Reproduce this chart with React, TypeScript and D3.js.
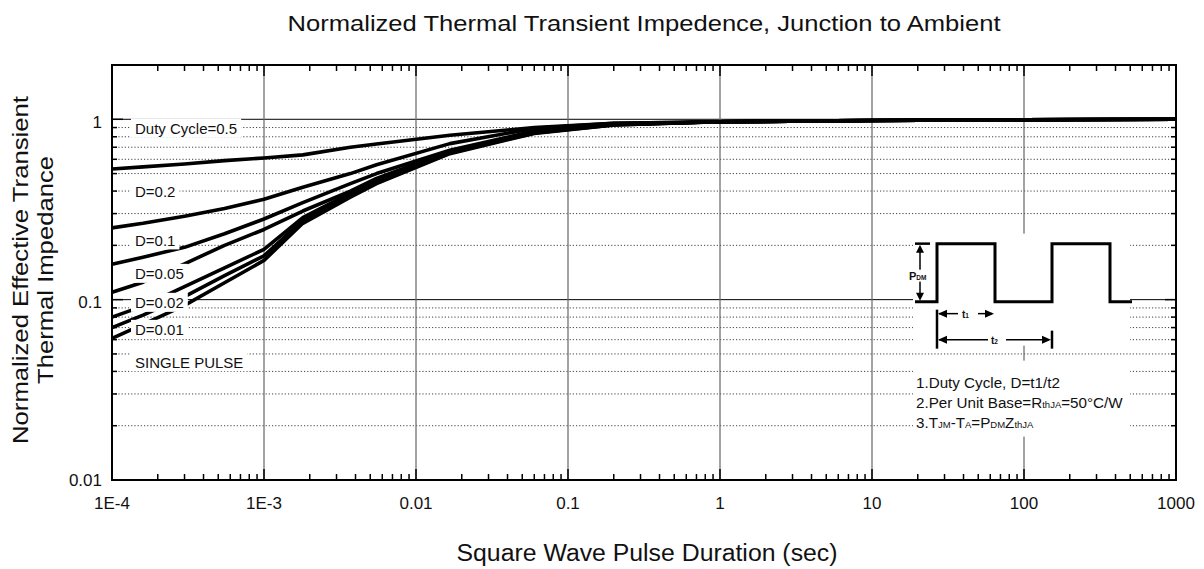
import * as d3 from 'd3';

// pulse duration (sec) sampled along every curve
const pulseTimes = [1e-4, 1.6e-4, 3e-4, 5.5e-4, 1e-3, 1.8e-3, 3.7e-3, 5.5e-3, 0.0167, 0.06, 0.2, 1, 10, 100, 1000];

// normalized Zth
const dutyCycle05 = [0.53, 0.545, 0.565, 0.59, 0.61, 0.635, 0.7, 0.73, 0.815, 0.9, 0.95, 0.97, 0.985, 0.995, 1.0];
const dutyCycle02 = [0.25, 0.265, 0.29, 0.32, 0.36, 0.42, 0.5, 0.56, 0.733, 0.89, 0.95, 0.97, 0.985, 0.995, 1.0];
const dutyCycle01 = [0.157, 0.172, 0.195, 0.232, 0.28, 0.345, 0.44, 0.5, 0.673, 0.86, 0.94, 0.97, 0.985, 0.995, 1.0];
const dutyCycle005 = [0.11, 0.125, 0.158, 0.2, 0.245, 0.31, 0.4, 0.47, 0.665, 0.85, 0.935, 0.97, 0.985, 0.995, 1.0];
const dutyCycle002 = [0.08, 0.092, 0.118, 0.15, 0.19, 0.285, 0.39, 0.455, 0.655, 0.845, 0.935, 0.97, 0.985, 0.995, 1.0];
const dutyCycle001 = [0.07, 0.082, 0.104, 0.136, 0.175, 0.275, 0.38, 0.445, 0.65, 0.84, 0.93, 0.97, 0.985, 0.995, 1.0];
const singlePulse = [0.061, 0.073, 0.093, 0.124, 0.165, 0.265, 0.37, 0.44, 0.645, 0.835, 0.93, 0.97, 0.985, 0.995, 1.0];

const seriesValues = [dutyCycle05, dutyCycle02, dutyCycle01, dutyCycle005, dutyCycle002, dutyCycle001, singlePulse];
const seriesLabels = ['Duty Cycle=0.5', 'D=0.2', 'D=0.1', 'D=0.05', 'D=0.02', 'D=0.01', 'SINGLE PULSE'];

const xTickValues = [1e-4, 1e-3, 0.01, 0.1, 1, 10, 100, 1000];
const xTickLabels = ['1E-4', '1E-3', '0.01', '0.1', '1', '10', '100', '1000'];
const yTickValues = [0.01, 0.1, 1];
const yTickLabels = ['0.01', '0.1', '1'];

// layout
const width = 1204;
const height = 569;
const plot = { left: 112, right: 1176, top: 65, bottom: 480 };
const font = 'Liberation Sans, Arial, Helvetica, sans-serif';
// vertical position of each curve label, in impedance units
const labelLevels = [0.89, 0.4, 0.213, 0.139, 0.096, 0.068, 0.045];

const measure = (() => {
  const ctx = document.createElement('canvas').getContext('2d');
  return (text: string, size: number) => {
    if (!ctx) return text.length * size * 0.5;
    ctx.font = `${size}px ${font}`;
    return ctx.measureText(text).width;
  };
})();

const x = d3.scaleLog().domain([1e-4, 1000]).range([plot.left, plot.right]);
const y = d3.scaleLog().domain([0.01, 2]).range([plot.bottom, plot.top]);

const minorX: number[] = [];
for (let e = -4; e < 3; e++) for (let m = 2; m <= 9; m++) minorX.push(m * Math.pow(10, e));
const minorY: number[] = [];
for (let e = -2; e < 0; e++) for (let m = 2; m <= 9; m++) minorY.push(m * Math.pow(10, e));

const line = d3
  .line<number>()
  .x((_, i) => x(pulseTimes[i]))
  .y(d => y(d));

const App = () => {
  // inset anchor: pulse diagram and notes sit around t=100s
  const ix = x(100);
  const iy = y(0.1);
  const boxL = 913;
  const boxR = 1130;

  const arrowL = (tx: number, ty: number) => `M${tx},${ty} l9,-4 l0,8 z`;
  const arrowR = (tx: number, ty: number) => `M${tx},${ty} l-9,-4 l0,8 z`;
  const arrowU = (tx: number, ty: number) => `M${tx},${ty} l-4,8 l8,0 z`;
  const arrowD = (tx: number, ty: number) => `M${tx},${ty} l-4,-8 l8,0 z`;

  const pHigh = iy - 56;
  const pLow = iy + 2;
  const pulse = `M${boxL + 2},${pLow} H${ix - 87} V${pHigh} H${ix - 29} V${pLow} H${ix + 28} V${pHigh} H${ix + 86} V${pLow} H${boxR + 2}`;
  const midY = 270;

  return (
    <svg
      width={width}
      height={height}
      viewBox={`0 0 ${width} ${height}`}
      style={{ position: 'absolute', left: 0, top: 0, background: '#fff' }}
      fontFamily={font}
    >
      <rect width={width} height={height} fill="#fff" />

      {/* dotted minor grid */}
      {minorY.map(v => (
        <line key={'gy' + v} x1={plot.left} x2={plot.right} y1={y(v)} y2={y(v)} stroke="#444" strokeWidth={1} strokeDasharray="1.2 2" />
      ))}
      {/* solid decade grid */}
      {[0.1, 1].map(v => (
        <line key={'gY' + v} x1={plot.left} x2={plot.right} y1={y(v)} y2={y(v)} stroke="#000" strokeWidth={1} />
      ))}
      {xTickValues.slice(1, -1).map(v => (
        <line key={'gx' + v} x1={x(v)} x2={x(v)} y1={plot.top} y2={plot.bottom} stroke="#666" strokeWidth={1.2} />
      ))}

      {/* white panels behind inset and notes */}
      <rect x={boxL} y={iy - 66} width={boxR - boxL} height={112} fill="#fff" />
      <rect x={boxL} y={iy + 61} width={boxR - boxL} height={76} fill="#fff" />

      {/* curves */}
      {seriesValues.map((vals, i) => (
        <path key={'c' + i} d={line(vals) || ''} fill="none" stroke="#000" strokeWidth={3.6} strokeLinejoin="round" />
      ))}

      {/* curve labels with white backing */}
      {seriesLabels.map((lab, i) => {
        const w = measure(lab, 15);
        const cy = y(labelLevels[i]);
        return (
          <g key={'l' + i}>
            <rect x={131} y={cy - 10} width={w + 8} height={19} fill="#fff" />
            <text x={135} y={cy + 5.5} fontSize={15} fill="#111">
              {lab}
            </text>
          </g>
        );
      })}

      {/* frame */}
      <rect x={plot.left} y={plot.top} width={plot.right - plot.left} height={plot.bottom - plot.top} fill="none" stroke="#000" strokeWidth={2} />

      {/* x ticks top and bottom */}
      {minorX.map(v => (
        <g key={'tx' + v}>
          <line x1={x(v)} x2={x(v)} y1={plot.bottom} y2={plot.bottom - 6} stroke="#000" strokeWidth={1.5} />
          <line x1={x(v)} x2={x(v)} y1={plot.top} y2={plot.top + 6} stroke="#000" strokeWidth={1.5} />
        </g>
      ))}
      {xTickValues.map(v => (
        <g key={'tX' + v}>
          <line x1={x(v)} x2={x(v)} y1={plot.bottom} y2={plot.bottom - 11} stroke="#000" strokeWidth={1.5} />
          <line x1={x(v)} x2={x(v)} y1={plot.top} y2={plot.top + 11} stroke="#000" strokeWidth={1.5} />
        </g>
      ))}
      {/* y ticks left and right */}
      {minorY.map(v => (
        <g key={'ty' + v}>
          <line x1={plot.left} x2={plot.left + 5} y1={y(v)} y2={y(v)} stroke="#000" strokeWidth={1.5} />
          <line x1={plot.right} x2={plot.right - 5} y1={y(v)} y2={y(v)} stroke="#000" strokeWidth={1.5} />
        </g>
      ))}
      {yTickValues.map(v => (
        <g key={'tY' + v}>
          <line x1={plot.left} x2={plot.left + 11} y1={y(v)} y2={y(v)} stroke="#000" strokeWidth={1.5} />
          <line x1={plot.right} x2={plot.right - 11} y1={y(v)} y2={y(v)} stroke="#000" strokeWidth={1.5} />
        </g>
      ))}

      {/* tick labels */}
      {xTickValues.map((v, i) => (
        <text key={'xl' + v} x={x(v)} y={plot.bottom + 29} fontSize={17} textAnchor="middle" fill="#111">
          {xTickLabels[i]}
        </text>
      ))}
      {yTickValues.map((v, i) => (
        <text key={'yl' + v} x={plot.left - 10} y={y(v) + (i === 0 ? 6 : 8.5)} fontSize={17} textAnchor="end" fill="#111">
          {yTickLabels[i]}
        </text>
      ))}

      {/* pulse diagram */}
      <path d={pulse} fill="none" stroke="#000" strokeWidth={3} />
      <line x1={boxL + 2} x2={ix - 94} y1={pHigh} y2={pHigh} stroke="#000" strokeWidth={2.5} />
      <line x1={ix - 104} x2={ix - 104} y1={pHigh + 6} y2={pLow - 6} stroke="#000" strokeWidth={1.5} />
      <path d={arrowU(ix - 104, pHigh + 1)} fill="#000" />
      <path d={arrowD(ix - 104, pLow - 1)} fill="#000" />
      <rect x={ix - 116} y={pHigh + 26} width={24} height={12} fill="#fff" />
      <text x={ix - 115} y={pHigh + 36} fontSize={11} fontWeight="bold" fill="#111">
        P<tspan fontSize={6.5}>DM</tspan>
      </text>

      <line x1={ix - 87} x2={ix - 87} y1={pLow + 8} y2={pLow + 47} stroke="#000" strokeWidth={2.5} />
      <line x1={ix + 28} x2={ix + 28} y1={pLow + 29} y2={pLow + 47} stroke="#000" strokeWidth={2.5} />
      <line x1={ix - 85} x2={ix - 66} y1={pLow + 12} y2={pLow + 12} stroke="#000" strokeWidth={1.5} />
      <path d={arrowL(ix - 86, pLow + 12)} fill="#000" />
      <text x={ix - 62} y={pLow + 16} fontSize={10} fontWeight="bold" fill="#111">
        t<tspan fontSize={6.5}>1</tspan>
      </text>
      <line x1={ix - 46} x2={ix - 32} y1={pLow + 12} y2={pLow + 12} stroke="#000" strokeWidth={1.5} />
      <path d={arrowR(ix - 30, pLow + 12)} fill="#000" />
      <line x1={ix - 85} x2={ix - 36} y1={pLow + 38} y2={pLow + 38} stroke="#000" strokeWidth={1.5} />
      <path d={arrowL(ix - 86, pLow + 38)} fill="#000" />
      <text x={ix - 33} y={pLow + 42} fontSize={10} fontWeight="bold" fill="#111">
        t<tspan fontSize={6.5}>2</tspan>
      </text>
      <line x1={ix - 18} x2={ix + 25} y1={pLow + 38} y2={pLow + 38} stroke="#000" strokeWidth={1.5} />
      <path d={arrowR(ix + 27, pLow + 38)} fill="#000" />

      {/* notes */}
      <g fontSize={15.2} fill="#111">
        <text x={boxL + 3} y={iy + 88}>1.Duty Cycle, D=t1/t2</text>
        <text x={boxL + 3} y={iy + 108}>
          2.Per Unit Base=R<tspan fontSize={9.5}>thJA</tspan>=50°C/W
        </text>
        <text x={boxL + 3} y={iy + 128}>
          3.T<tspan fontSize={9.5}>JM</tspan>-T<tspan fontSize={9.5}>A</tspan>=P<tspan fontSize={9.5}>DM</tspan>Z
          <tspan fontSize={9.5}>thJA</tspan>
        </text>
      </g>

      {/* titles, stretched to the widths they have in the source */}
      <text x={644} y={31} fontSize={22} textAnchor="middle" fill="#111" textLength={713} lengthAdjust="spacingAndGlyphs">
        Normalized Thermal Transient Impedence, Junction to Ambient
      </text>
      <text x={647} y={561} fontSize={23} textAnchor="middle" fill="#111" textLength={381} lengthAdjust="spacingAndGlyphs">
        Square Wave Pulse Duration (sec)
      </text>
      <text
        transform={`translate(28,${midY}) rotate(-90)`}
        fontSize={22}
        textAnchor="middle"
        fill="#111"
        textLength={348}
        lengthAdjust="spacingAndGlyphs"
      >
        Normalized Effective Transient
      </text>
      <text
        transform={`translate(53,${midY}) rotate(-90)`}
        fontSize={22}
        textAnchor="middle"
        fill="#111"
        textLength={228}
        lengthAdjust="spacingAndGlyphs"
      >
        Thermal Impedance
      </text>
    </svg>
  );
};

export default App;
